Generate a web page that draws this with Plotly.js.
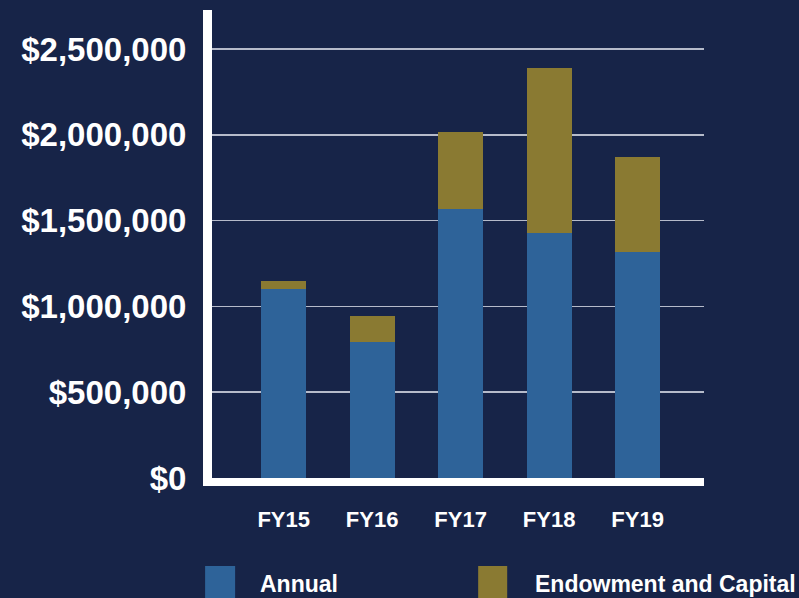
<!DOCTYPE html>
<html>
<head>
<meta charset="utf-8">
<script src="https://cdn.plot.ly/plotly-3.0.1.min.js"></script>
<style>
  html, body { margin: 0; padding: 0; background: #172448; }
  #chart { width: 799px; height: 598px; }
</style>
</head>
<body>
<div id="chart"></div>
<script>
// fiscal years on the x axis
var years = ["FY15", "FY16", "FY17", "FY18", "FY19"];

// dollars raised
var annual = [1100000, 790000, 1565000, 1430000, 1315000];
var endowment = [50000, 153000, 453000, 960000, 555000];

var yTicks = [0, 500000, 1000000, 1500000, 2000000, 2500000];
var seriesNames = ["Annual", "Endowment and Capital"];

var bg = "#172448";
var blue = "#2e6399";
var gold = "#8a7a32";
var labelFont = "Liberation Sans, Arial, sans-serif";

var traceAnnual = { x: years, y: annual, name: seriesNames[0], type: "bar",
  marker: { color: blue }, hoverinfo: "skip" };
var traceEndow = { x: years, y: endowment, name: seriesNames[1], type: "bar",
  marker: { color: gold }, hoverinfo: "skip" };

var data = [traceAnnual, traceEndow];

// legend drawn by hand so the swatches can be as big as in the picture
var keyShapes = [
  { type: "rect", xref: "paper", yref: "paper", x0: -0.014, x1: 0.047, y0: -0.188, y1: -0.27,
    fillcolor: blue, line: { width: 0 } },
  { type: "rect", xref: "paper", yref: "paper", x0: 0.541, x1: 0.600, y0: -0.188, y1: -0.27,
    fillcolor: gold, line: { width: 0 } }
];
var keyLabels = [
  { text: seriesNames[0], xref: "paper", yref: "paper", x: 0.093, y: -0.226,
    xanchor: "left", yanchor: "middle", showarrow: false },
  { text: seriesNames[1], xref: "paper", yref: "paper", x: 0.652, y: -0.226,
    xanchor: "left", yanchor: "middle", showarrow: false }
];
keyLabels.forEach(a => a.font = { family: labelFont, size: 23, color: "#ffffff", weight: "bold" });

var layout = {
  width: 799, height: 598,
  paper_bgcolor: bg, plot_bgcolor: bg,
  barmode: "stack", bargap: 0.49,
  showlegend: false,
  margin: { l: 212, r: 95, t: 10, b: 120 },
  xaxis: {
    range: [-0.81, 4.75],
    showline: true, linecolor: "#ffffff", linewidth: 8,
    showgrid: false, ticks: "", ticklabelstandoff: 15,
    tickfont: { family: labelFont, size: 22, color: "#ffffff", weight: "bold" },
    fixedrange: true
  },
  yaxis: {
    range: [0, 2727000],
    tickvals: yTicks, tickformat: "$,.0f",
    showline: true, linecolor: "#ffffff", linewidth: 9,
    showgrid: true, gridcolor: "rgba(210,214,226,0.85)", gridwidth: 1.5,
    zeroline: false, ticks: "", ticklabelstandoff: 10,
    tickfont: { family: labelFont, size: 33, color: "#ffffff", weight: "bold" },
    fixedrange: true
  },
  shapes: keyShapes,
  annotations: keyLabels
};

Plotly.newPlot("chart", data, layout, { displayModeBar: false, staticPlot: true });
</script>
</body>
</html>
